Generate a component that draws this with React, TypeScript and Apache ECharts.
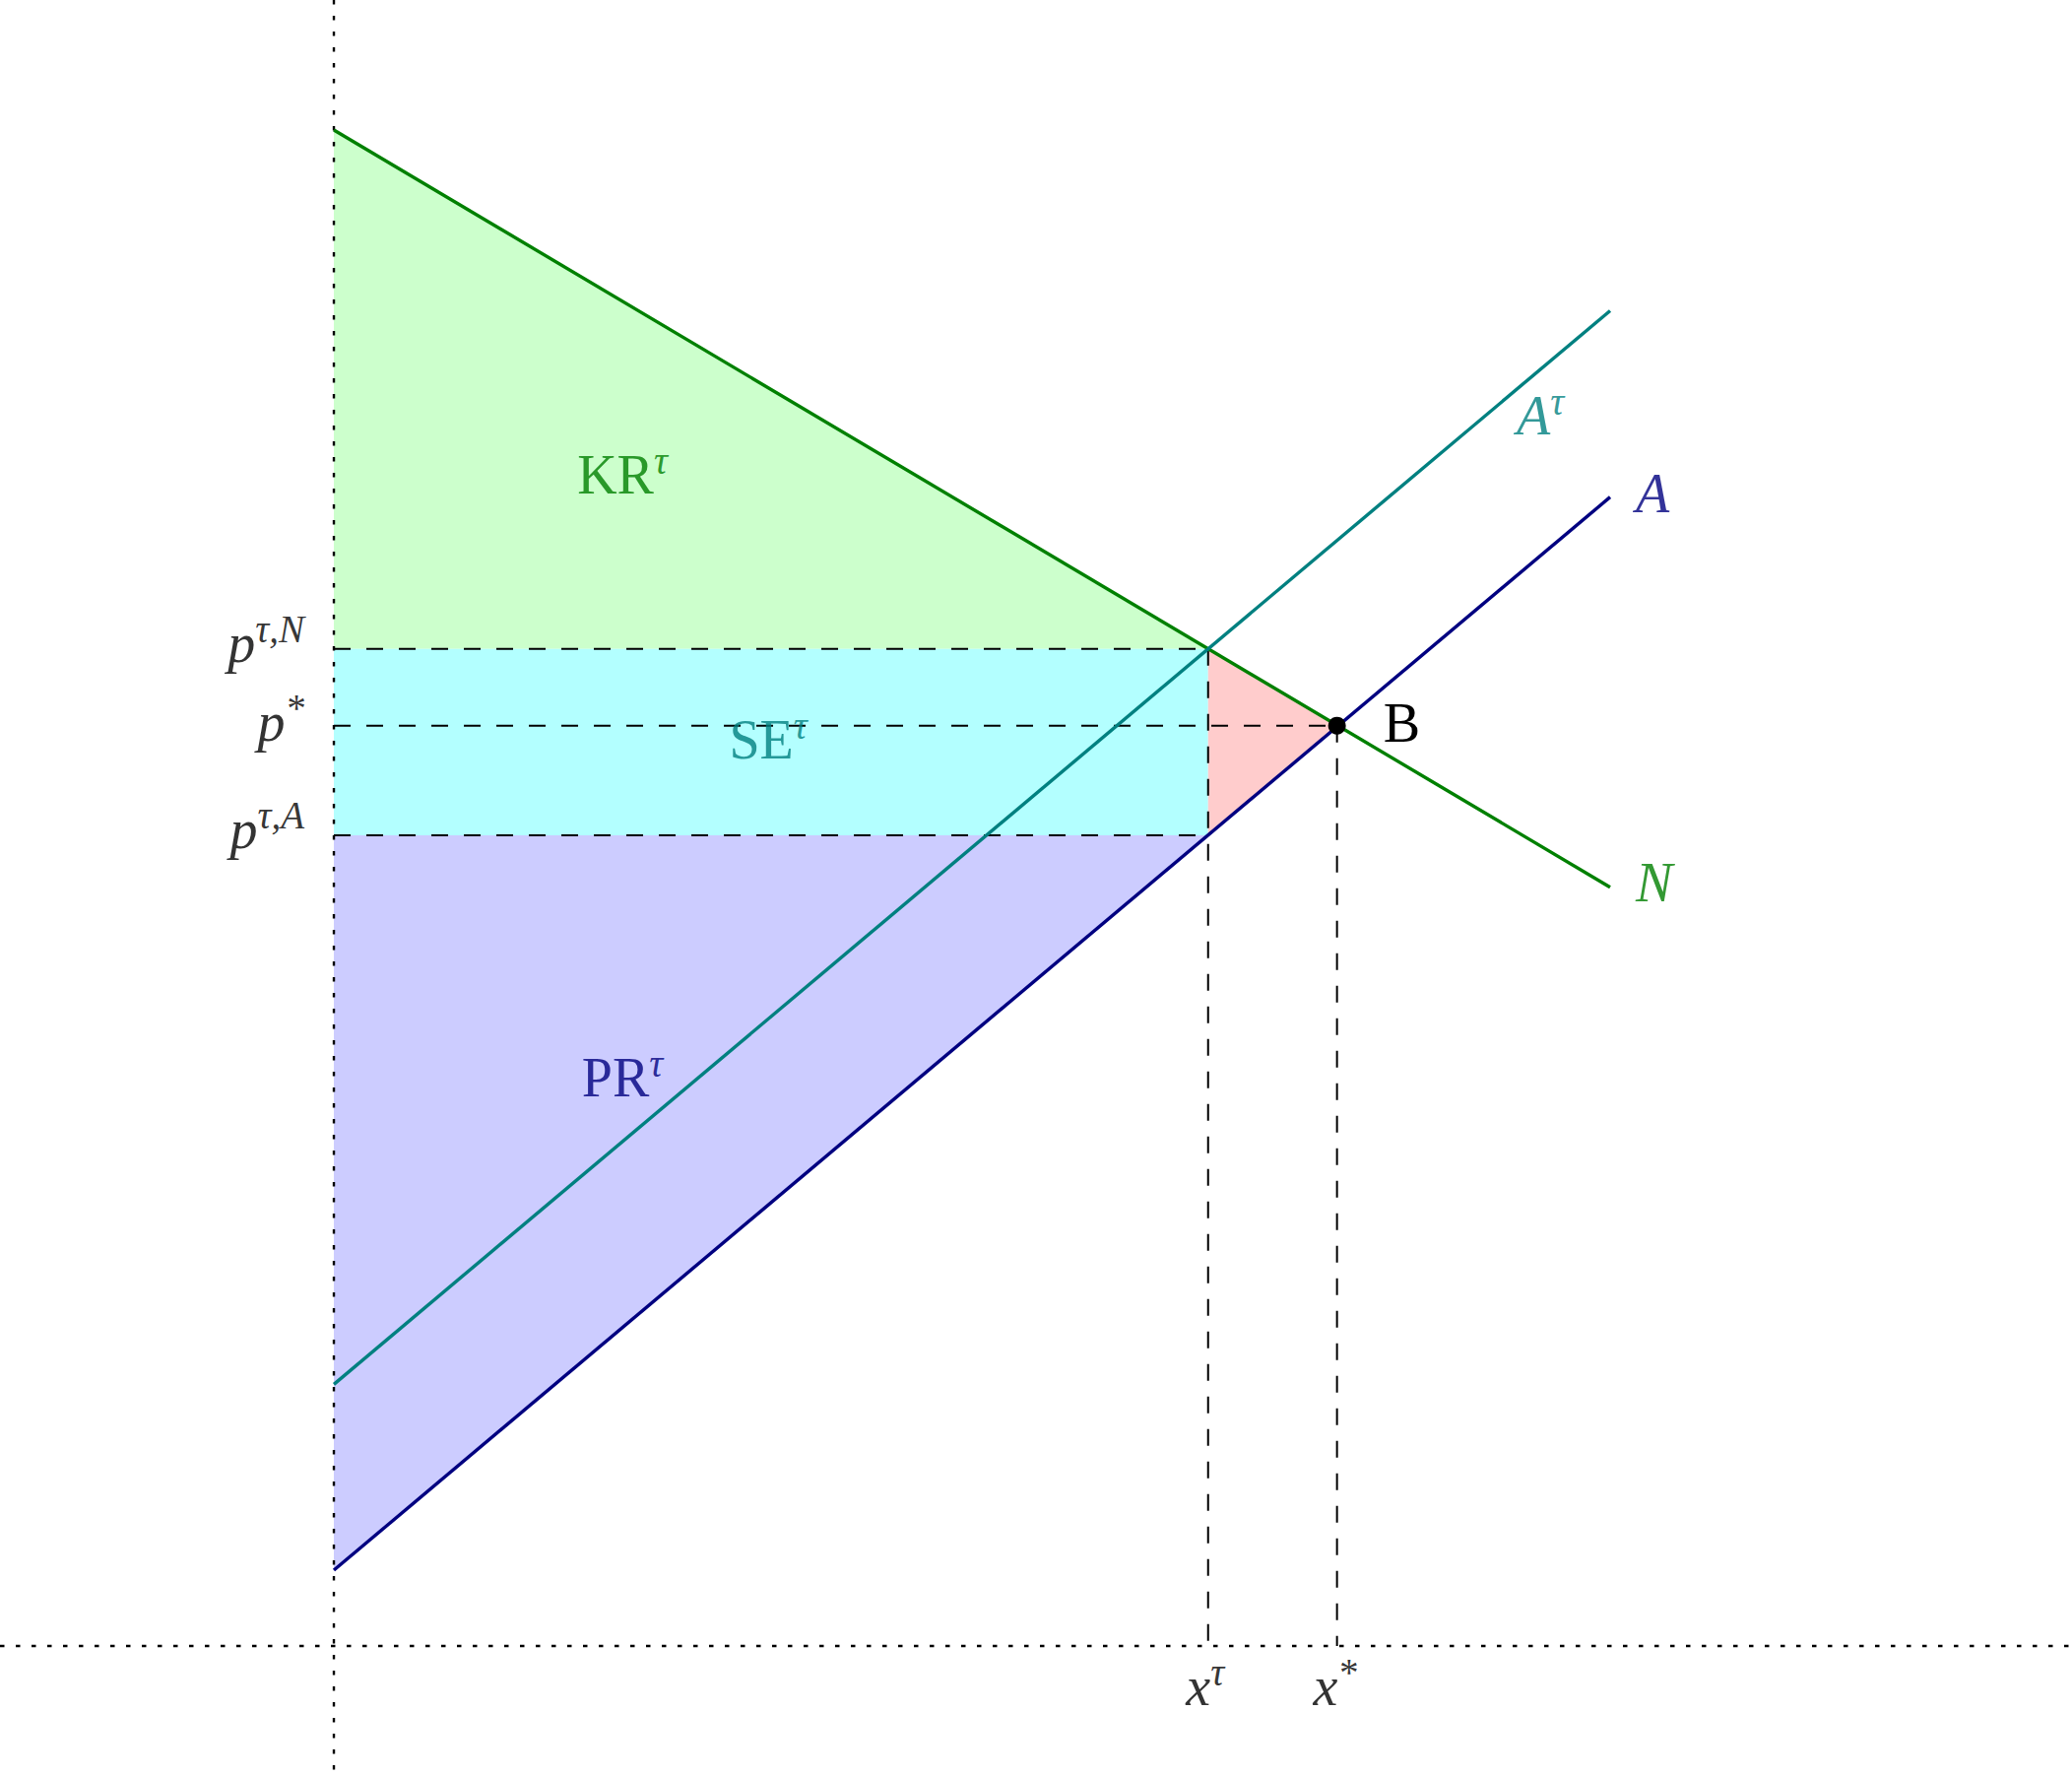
import React, { useEffect, useRef } from "react";
import * as echarts from "echarts";

// ---- data (model units) ----
const curveX = [0, 10];
const demandN = [11.875, 5.944];
const supplyA = [0.594, 9.0];
const supplyATau = [2.05, 10.46];
const xTau = 6.85;
const xStar = 7.86;
const pTauN = 7.81;
const pStar = 7.21;
const pTauA = 6.35;
const xRange = [-2.616, 13.619];
const yRange = [-1.026, 12.894];

// label anchors (model units)
const regionLabels = [
  { text: "KR", x: 2.261, y: 9.201, color: "#008000" },
  { text: "SE", x: 3.403, y: 7.122, color: "#008080" },
  { text: "PR", x: 2.261, y: 4.475, color: "#000080" },
];
const aTauLabel = { x: 9.267, y: 9.66 };

const GREEN = "#008000";
const TEAL = "#008080";
const NAVY = "#000080";
const FONT = "Liberation Serif";

const richStyles = (color: string) => ({
  up: { fontFamily: FONT, fontSize: 56, lineHeight: 62, color, verticalAlign: "bottom", textBorderWidth: 0 },
  it: { fontFamily: FONT, fontStyle: "italic", fontSize: 56, lineHeight: 62, color, verticalAlign: "bottom", textBorderWidth: 0 },
  sup: { fontFamily: FONT, fontStyle: "italic", fontSize: 39, lineHeight: 38, color, verticalAlign: "top", textBorderWidth: 0 },
});

function polygon(points: number[][], fill: string) {
  return {
    type: "custom",
    coordinateSystem: "cartesian2d",
    silent: true,
    z: 1,
    data: [[points[0][0], points[0][1]]],
    renderItem: (_p: any, api: any) => ({
      type: "polygon",
      shape: { points: points.map((pt) => api.coord(pt)) },
      style: { fill },
    }),
  };
}

function seg(a: number[], b: number[], color: string, width: number, type: any, z: number) {
  return {
    type: "line",
    data: [a, b],
    symbol: "none",
    silent: true,
    z,
    lineStyle: { color, width, type, cap: "butt", opacity: 1 },
  };
}

function labelSeries(
  points: number[][],
  formatter: string,
  color: string,
  align: string,
  offset: number[]
) {
  return {
    type: "scatter",
    data: points,
    symbolSize: 0,
    silent: true,
    z: 6,
    label: {
      show: true,
      position: "inside",
      align,
      verticalAlign: "middle",
      offset,
      formatter,
      color,
      textBorderWidth: 0,
      rich: richStyles(color),
    },
  };
}

export default function App() {
  const ref = useRef<HTMLDivElement>(null);
  useEffect(() => {
    document.body.style.margin = "0";
    const chart = echarts.init(ref.current!, null, { renderer: "svg" });
    const n0 = [curveX[0], demandN[0]];
    const a0 = [curveX[0], supplyA[0]];
    const series: any[] = [
      polygon([n0, [xTau, pTauN], [0, pTauN]], "#CCFFCC"),
      polygon([[0, pTauN], [xTau, pTauN], [xTau, pTauA], [0, pTauA]], "#B3FFFF"),
      polygon([[0, pTauA], [xTau, pTauA], a0], "#CCCCFF"),
      polygon([[xTau, pTauN], [xStar, pStar], [xTau, pTauA]], "#FFCCCC"),
      // dotted axes
      seg([xRange[0], 0], [xRange[1], 0], "#000", 2.4, [4.5, 11.5], 2),
      seg([0, yRange[1]], [0, yRange[0]], "#000", 2.4, [4.5, 11.5], 2),
      // dashed guides
      seg([0, pTauN], [xTau, pTauN], "#000", 2, [17, 16], 2),
      seg([0, pStar], [xStar, pStar], "#000", 2, [17, 16], 2),
      seg([0, pTauA], [xTau, pTauA], "#000", 2, [17, 16], 2),
      seg([xTau, pTauN], [xTau, 0], "#000", 2, [17, 16], 2),
      seg([xStar, pStar], [xStar, 0], "#000", 2, [17, 16], 2),
      // curves
      seg([curveX[0], demandN[0]], [curveX[1], demandN[1]], GREEN, 3.4, "solid", 3),
      seg([curveX[0], supplyATau[0]], [curveX[1], supplyATau[1]], TEAL, 3.4, "solid", 3),
      seg([curveX[0], supplyA[0]], [curveX[1], supplyA[1]], NAVY, 3.4, "solid", 3),
      // equilibrium point B
      {
        type: "scatter",
        data: [[xStar, pStar]],
        symbol: "circle",
        symbolSize: 18,
        z: 5,
        silent: true,
        itemStyle: { color: "#000", opacity: 1 },
        label: {
          show: true,
          position: "inside",
          align: "left",
          verticalAlign: "middle",
          offset: [47, -6],
          formatter: "{up|B}",
          color: "#000",
          textBorderWidth: 0,
          rich: richStyles("#000"),
        },
      },
      // region labels
      ...regionLabels.map((r) =>
        labelSeries([[r.x, r.y]], `{up|${r.text}}{sup|τ}`, r.color, "center", [0, 0])
      ),
      // curve labels
      labelSeries([[aTauLabel.x, aTauLabel.y]], "{it|A}{sup|τ}", TEAL, "left", [0, 0]),
      labelSeries([[curveX[1], supplyA[1]]], "{it|A}", NAVY, "left", [26, -7]),
      labelSeries([[curveX[1], demandN[1]]], "{it|N}", GREEN, "left", [26, -8]),
      // price labels
      labelSeries([[0, pTauN]], "{it|p}{sup|τ,N}", "#000", "right", [-30, -9]),
      labelSeries([[0, pStar]], "{it|p}{sup|*}", "#000", "right", [-30, -7]),
      labelSeries([[0, pTauA]], "{it|p}{sup|τ,A}", "#000", "right", [-30, -9]),
      // quantity labels
      labelSeries([[xTau, 0]], "{it|x}{sup|τ}", "#000", "center", [-3, 38]),
      labelSeries([[xStar, 0]], "{it|x}{sup|*}", "#000", "center", [-2, 38]),
    ];
    chart.setOption({
      animation: false,
      backgroundColor: "#fff",
      grid: { left: 0, right: 0, top: 0, bottom: 0 },
      xAxis: { type: "value", min: xRange[0], max: xRange[1], show: false },
      yAxis: { type: "value", min: yRange[0], max: yRange[1], show: false },
      series,
    });
    return () => chart.dispose();
  }, []);
  return (
    <div
      ref={ref}
      style={{ position: "absolute", left: 0, top: 0, width: 2104, height: 1804 }}
    />
  );
}
